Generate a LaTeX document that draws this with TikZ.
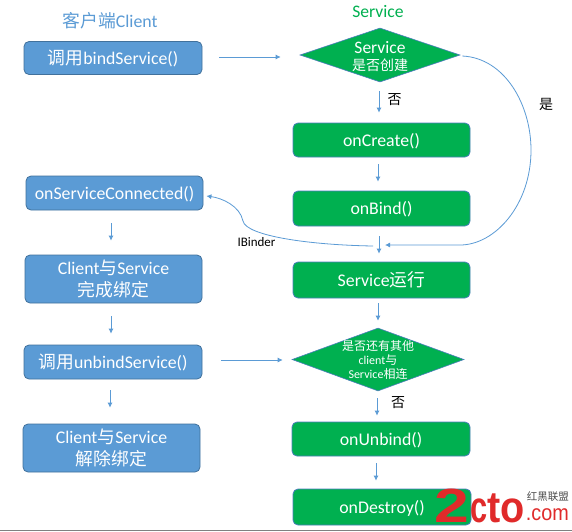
\documentclass[tikz,border=0pt]{standalone}
\usepackage{fontspec}
\setmainfont{Carlito}
\newfontfamily\cjk{Noto Sans CJK SC}
\newfontfamily\wm{Liberation Sans}
\usetikzlibrary{shapes.geometric,arrows.meta,calc}
\definecolor{bluefill}{HTML}{5B9BD5}
\definecolor{blueedge}{HTML}{41719C}
\definecolor{greenfill}{HTML}{00B050}
\definecolor{greenedge}{HTML}{4A7EBB}
\definecolor{wmred}{HTML}{E02A2A}
\newcommand{\zh}[1]{{\cjk #1}}
\newcommand{\zhsmall}[1]{{\cjk\fontsize{14}{17}\selectfont #1}}
\tikzset{
  x=1pt,y=-1pt,
  boxb/.style={draw=blueedge,fill=bluefill,line width=0.8pt,rounded corners=5pt,text=white,align=center,font=\fontsize{17.8}{21}\selectfont,inner sep=0pt,text height=14pt,text depth=2pt},
  boxg/.style={draw=greenedge,fill=greenfill,line width=0.8pt,rounded corners=5pt,text=white,align=center,font=\fontsize{17.8}{21}\selectfont,inner sep=0pt,text height=14pt,text depth=2pt},
  twolines/.style={text height=36pt,text depth=2pt},
  dia/.style={diamond,draw=greenedge,fill=greenfill,line width=0.6pt,text=white,align=center,aspect=3},
  flow/.style={draw=bluefill,line width=0.8pt,-{Latex[length=5pt,width=5pt]}},
  lab/.style={inner sep=0pt,font=\fontsize{14}{16}\selectfont}
}
\begin{document}
\begin{tikzpicture}
\useasboundingbox (0,0) rectangle (572,531);
\fill[white] (0,0) rectangle (572,531);
\draw[gray,line width=1pt] (0,530) -- (572,530);
\node[inner sep=0pt,text=bluefill,font=\fontsize{17.8}{20}\selectfont] (tc) at (110,21) {\zh{客户端}Client};
\node[inner sep=0pt,text=greenfill,font=\fontsize{17.6}{20}\selectfont] (ts) at (378,12) {Service};
% client column
\node[boxb,minimum width=178pt,minimum height=33pt] (bind) at (113,58) {\zh{调用}bindService()};
\node[boxb,minimum width=177pt,minimum height=34pt] (conn) at (114.5,193) {onServiceConnected()};
\node[boxb,twolines,minimum width=177pt,minimum height=48pt] (done) at (113.5,279) {Client\zh{与}Service\\[1pt]\zh{完成绑定}};
\node[boxb,minimum width=178pt,minimum height=34pt] (unb) at (113,362) {\zh{调用}unbindService()};
\node[boxb,twolines,minimum width=177pt,minimum height=48pt] (undone) at (111.5,448) {Client\zh{与}Service\\[1pt]\zh{解除绑定}};
% service column
\node[dia,inner sep=-4pt,text height=32pt,text depth=2pt,minimum width=160pt,minimum height=54pt,font=\fontsize{17.5}{17}\selectfont] (d1) at (380,55) {Service\\\zhsmall{是否创建}};
\node[boxg,minimum width=177pt,minimum height=34pt] (create) at (381.5,140) {onCreate()};
\node[boxg,minimum width=177pt,minimum height=35pt] (onbind) at (381.5,208.5) {onBind()};
\node[boxg,minimum width=177pt,minimum height=36pt] (run) at (381.5,280) {Service\zh{运行}};
\node[dia,inner sep=-5pt,text height=40pt,text depth=3pt,minimum width=172pt,minimum height=63pt,font=\fontsize{12}{14}\selectfont,aspect=2.73] (d2) at (378,359.5) {\zh{是否还有其他}\\client\zh{与}\\Service\zh{相连}};
\node[boxg,minimum width=178pt,minimum height=34pt] (ub) at (381,439) {onUnbind()};
\node[boxg,minimum width=178pt,minimum height=36pt] (destroy) at (382,507) {onDestroy()};
% labels
\node[lab] (no1) at (394.5,100) {\zh{否}};
\node[lab] (yes) at (546,104) {\zh{是}};
\node[lab] (no2) at (398,402.5) {\zh{否}};
\node[inner sep=0pt,font=\fontsize{13}{15}\selectfont] (ib) at (256.5,242) {IBinder};
% service arrows
\draw[flow,shorten <=17pt,shorten >=19pt] ([yshift=1pt]bind.east) -- ([yshift=-2pt]d1.west);
\draw[flow,shorten <=9pt,shorten >=10pt] ([xshift=-1pt]d1.south) -- ([xshift=-2.5pt]create.north);
\draw[flow,shorten <=7pt,shorten >=9pt] ([xshift=-3.5pt]create.south) -- ([xshift=-3.5pt]onbind.north);
\draw[flow,shorten <=10pt,shorten >=8pt] ([xshift=-2.5pt]onbind.south) -- ([xshift=-2.5pt]run.north);
\draw[flow,shorten <=5pt,shorten >=7pt] ([xshift=-3.5pt]run.south) -- (d2.north);
\draw[flow,shorten <=7pt,shorten >=6pt] ([xshift=-1pt]d2.south) -- ([xshift=-4pt]ub.north);
\draw[flow,shorten <=7pt,shorten >=8pt] ([xshift=-5pt]ub.south) -- ([xshift=-6pt]destroy.north);
% client arrows
\draw[flow,shorten <=13pt,shorten >=14pt] ([xshift=-3.5pt]conn.south) -- ([xshift=-2.5pt]done.north);
\draw[flow,shorten <=13pt,shorten >=11pt] ([xshift=-2.5pt]done.south) -- ([xshift=-2pt]unb.north);
\draw[flow,shorten <=11pt,shorten >=16pt] ([xshift=-3pt]unb.south) -- ([xshift=-1.5pt]undone.north);
\draw[flow,shorten <=19pt,shorten >=9pt] ([yshift=2pt]unb.east) -- ([yshift=-0.5pt]d2.west);
% curves
\coordinate (ye) at (385,245);
\coordinate (ibs) at (373,246);
\draw[draw=bluefill,line width=0.8pt,-{Latex[length=5pt,width=5pt]}] ([xshift=2pt,yshift=-1pt]d1.east) .. controls (505,58) and (531,105) .. (531,150) .. controls (531,205) and (495,245) .. (460,245) -- (ye);
\draw[draw=bluefill,line width=0.8pt,-{Latex[length=5pt,width=5pt]}] (ibs) .. controls (310,245) and (246,236) .. (243,221) .. controls (240,206) and (222,198) .. ([xshift=3pt,yshift=-3pt]conn.east);
% watermark
\node[inner sep=0pt,text=wmred,font=\wm\bfseries\fontsize{48}{48}\selectfont,anchor=base west] (wm2) at (434,522) {\scalebox{1.3}[1]{2}};
\node[inner sep=0pt,text=wmred,font=\wm\bfseries\fontsize{44}{44}\selectfont,anchor=base west] (wmc) at (470,522) {\scalebox{0.7}[1]{c}};
\node[inner sep=0pt,text=wmred,font=\wm\bfseries\fontsize{44}{44}\selectfont,anchor=base west] (wmt) at (487,522) {\scalebox{0.9}[1]{to}};
\node[inner sep=0pt,text=wmred,font=\wm\fontsize{22}{22}\selectfont,anchor=base east] (wmd) at (569,520) {\scalebox{0.9}[1]{.com}};
\node[inner sep=0pt,text=black!70,font=\cjk\fontsize{10.5}{11}\selectfont,anchor=base east] (wmz) at (569,500) {红黑联盟};
\end{tikzpicture}
\end{document}
